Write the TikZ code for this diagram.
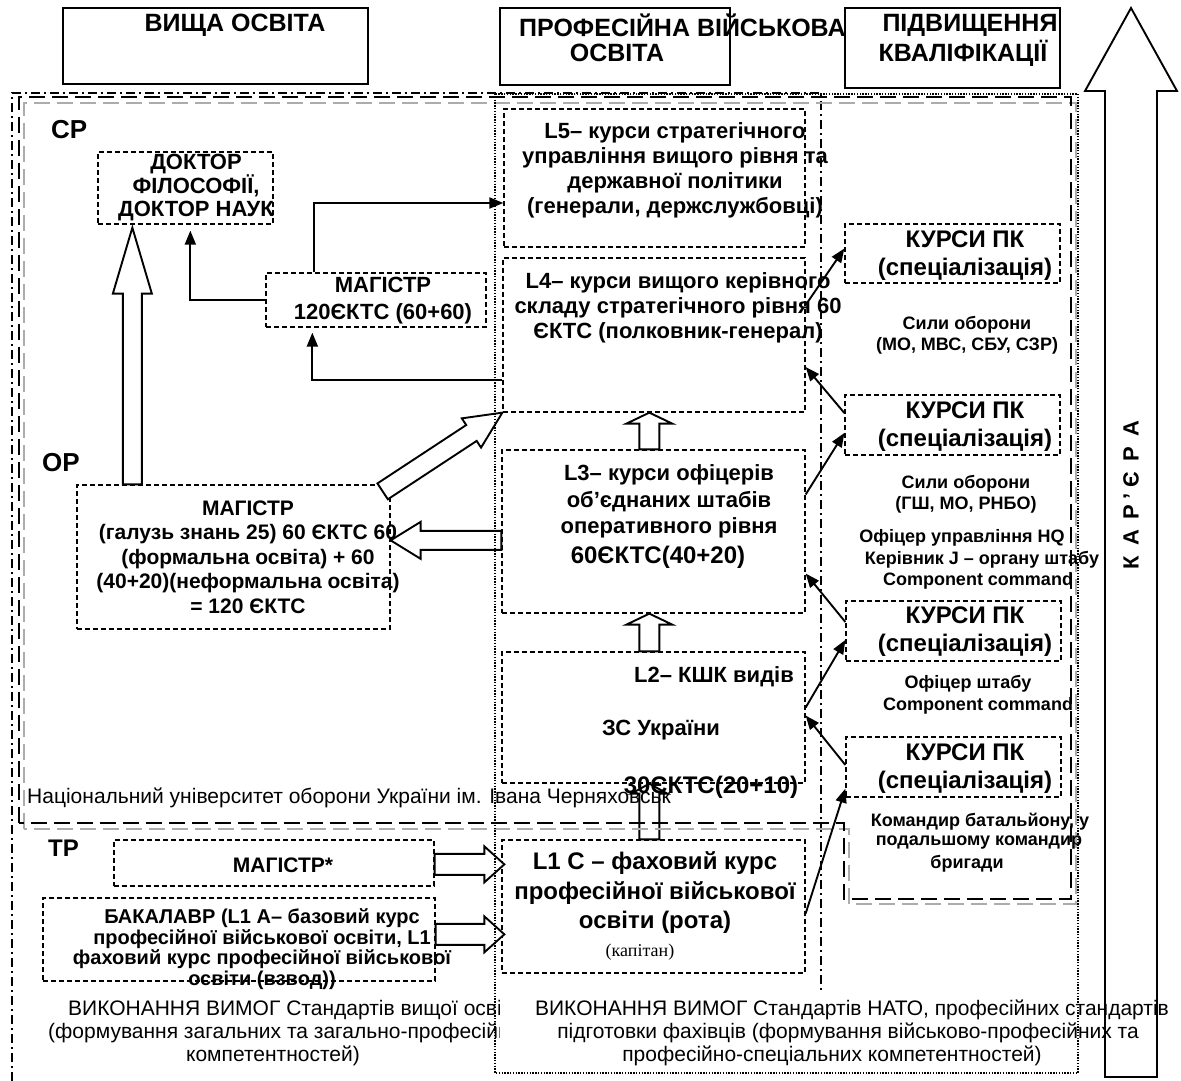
\documentclass[tikz,border=0pt]{standalone}
\usepackage{fontspec}
\setmainfont{Liberation Sans}
\newfontfamily\serifx{Liberation Serif}
\usetikzlibrary{arrows.meta,calc,fit}

\newcommand\hollowarr[5]{%
  \coordinate (has) at (#1);
  \coordinate (hae) at (#2);
  \coordinate (hab) at ($(hae)!#5!(has)$);
  \draw[hollow] ($(has)!#3!90:(hab)$) -- ($(hab)!#3!-90:(has)$) -- ($(hab)!#4!-90:(has)$) -- (hae)
     -- ($(hab)!#4!90:(has)$) -- ($(hab)!#3!90:(has)$) -- ($(has)!#3!-90:(hab)$) -- cycle;}

\tikzset{
  hbox/.style={draw, line width=1.8pt, inner sep=0pt},
  fbox/.style={draw, line width=1.3pt, dash pattern=on 5pt off 3pt, inner sep=0pt},
  dashdotfr/.style={line width=1.6pt, dash pattern=on 9pt off 4pt on 2pt off 4pt},
  bdash/.style={line width=2.2pt, dash pattern=on 16pt off 7pt},
  gdash/.style={bdash, draw=gray!65},
  dotfr/.style={line width=1.6pt, dash pattern=on 1.4pt off 1.4pt},
  conn/.style={line width=1.9pt, -{Triangle[length=14pt,width=11pt]}},
  hollow/.style={draw, line width=1.9pt, fill=white, line join=miter},
  ht/.style={font=\bfseries\fontsize{25}{28}\selectfont, inner sep=0pt},
  lab/.style={font=\bfseries\fontsize{26}{28}\selectfont, inner sep=0pt, anchor=west},
  bt/.style={font=\bfseries\fontsize{21}{24}\selectfont, align=center, inner sep=0pt},
  lt/.style={font=\bfseries\fontsize{22}{25}\selectfont, align=center, inner sep=0pt},
  kt/.style={font=\bfseries\fontsize{24}{28}\selectfont, align=center, inner sep=0pt},
  st/.style={font=\bfseries\fontsize{18}{21}\selectfont, align=center, inner sep=0pt},
  rt/.style={font=\fontsize{21}{23}\selectfont, align=center, inner sep=0pt},
}

\begin{document}
\begin{tikzpicture}[x=1pt,y=-1pt]
\useasboundingbox (0,0) rectangle (1181,1081);

% boxes
\node[hbox, fit={(63,8) (368,84)}] (hv) {};
\node[hbox, fit={(500,8) (730,85)}] (hp) {};
\node[hbox, fit={(845,8) (1060,88)}] (hq) {};

\node[fbox, fit={(98,152) (273,224)}] (doc) {};
\node[fbox, fit={(266,273) (486,327)}] (mag1) {};
\node[fbox, fit={(77,485) (390,629)}] (mag2) {};
\node[fbox, fit={(114,840) (434,886)}] (magS) {};
\node[fbox, fit={(43,898) (435,981)}] (bak) {};
\node[fbox, fit={(504,109) (805,247)}] (L5) {};
\node[fbox, fit={(503,258) (805,412)}] (L4) {};
\node[fbox, fit={(502,450) (805,613)}] (L3) {};
\node[fbox, fit={(502,652) (805,783)}] (L2) {};
\node[fbox, fit={(502,840) (805,973)}] (L1) {};
\node[fbox, fit={(845,224) (1060,283)}] (k1) {};
\node[fbox, fit={(845,395) (1060,455)}] (k2) {};
\node[fbox, fit={(846,601) (1061,661)}] (k3) {};
\node[fbox, fit={(846,737) (1061,797)}] (k4) {};

% hollow arrows
\hollowarr{$(mag2.north west)+(56,0)$}{$(doc.south west)+(35,3)$}{9.5pt}{19.5pt}{66pt}
\hollowarr{$(mag2.north east)+(-8,7)$}{L4.south west}{9.5pt}{17.5pt}{37pt}
\hollowarr{$(L3.north west)+(0,91)$}{$(mag2.north east)+(0,56)$}{9.5pt}{18.5pt}{30pt}
\hollowarr{$(L3.north west)+(148,0)$}{$(L4.south west)+(147,0)$}{10pt}{23pt}{11pt}
\hollowarr{$(L2.north west)+(148,0)$}{$(L3.south west)+(148,0)$}{10pt}{23pt}{11pt}
\hollowarr{$(L1.north west)+(148,0)$}{$(L2.south west)+(148,0)$}{10pt}{18pt}{10pt}
\hollowarr{$(magS.north east)+(0,25)$}{$(L1.north west)+(3,25)$}{10.5pt}{18pt}{20pt}
\hollowarr{$(bak.north east)+(0,37)$}{$(L1.north west)+(3,95)$}{10.5pt}{18pt}{20pt}

% frames
\draw[dashdotfr] (12,1081) -- (12,93) -- (821,93) -- (821,993);
\draw[gdash] (24,829) -- (24,103) -- (1076,103) -- (1076,904) -- (849,904) -- (849,829) -- cycle;
\draw[bdash] (19,823) -- (19,97) -- (1071,97) -- (1071,899) -- (844,899) -- (844,823) -- cycle;
\draw[dotfr] (495,94) rectangle (1078,1073);

% career arrow
\draw[line width=1.9pt, line join=miter] (1105,1077) -- (1105,91) -- (1085,91) -- (1131,8) -- (1177,91) -- (1157,91) -- (1157,1077) -- cycle;
\node[font=\bfseries\fontsize{22}{24}\selectfont, rotate=90, inner sep=0pt] (kar) at (1131,495) {К\hspace{10pt}А\hspace{10pt}Р\hspace{6pt}’\hspace{6pt}Є\hspace{10pt}Р\hspace{10pt}А};

% header texts
\node[ht] (t1) at (235,25) {ВИЩА ОСВІТА};
\node[ht, anchor=west] (t2) at (519,25) {ПРОФЕСІЙНА ВІЙСЬКОВА};
\node[ht] (t3) at (617,53) {ОСВІТА};
\node[ht] (t4) at (970,25) {ПІДВИЩЕННЯ};
\node[ht] (t5) at (963,53) {КВАЛІФІКАЦІЇ};

% level labels
\node[lab] (cp) at (51,130) {СР};
\node[lab] (op) at (42,463) {ОР};
\node[lab, font=\bfseries\fontsize{24}{26}\selectfont] (tp) at (48,848) {ТР};

% left column texts
\node[bt, font=\bfseries\fontsize{22}{23.5}\selectfont] (doct) at (196,188) {ДОКТОР\\ФІЛОСОФІЇ,\\ДОКТОР НАУК};
\node[bt, font=\bfseries\fontsize{22}{27}\selectfont] (mag1t) at (383,301) {МАГІСТР\\120ЄКТС (60+60)};
\node[bt, font=\bfseries\fontsize{21}{24.5}\selectfont] (mag2t) at (248,557) {МАГІСТР\\(галузь знань 25) 60 ЄКТС 60\\(формальна освіта) + 60\\(40+20)(неформальна освіта)\\= 120 ЄКТС};
\node[bt, font=\bfseries\fontsize{21}{24}\selectfont] (magSt) at (283,865) {МАГІСТР*};
\node[bt, font=\bfseries\fontsize{20}{20.5}\selectfont] (bakt) at (262,949) {БАКАЛАВР (L1 А– базовий курс\\професійної військової освіти, L1\\фаховий  курс професійної військової\\освіти (взвод))};

% middle column texts
\node[lt] (L5t) at (675,170) {L5– курси стратегічного\\управління вищого рівня та\\державної політики\\(генерали, держслужбовці)};
\node[lt] (L4t) at (678,307.5) {L4– курси вищого керівного\\складу стратегічного рівня 60\\ЄКТС (полковник-генерал)};
\node[lt, font=\bfseries\fontsize{22}{26.5}\selectfont] (L3t) at (669,501.5) {L3– курси офіцерів\\об’єднаних штабів\\оперативного рівня};
\node[lt, font=\bfseries\fontsize{24}{26}\selectfont] (L3e) at (658,557) {60ЄКТС(40+20)};
\node[lt] (L2t) at (714,677) {L2– КШК видів};
\node[lt] (L2u) at (661,730) {ЗС України};
\node[lt, font=\bfseries\fontsize{24}{26}\selectfont] (L2e) at (711,787) {30ЄКТС(20+10)};
\node[lt, font=\bfseries\fontsize{24}{29.5}\selectfont] (L1t) at (655,893) {L1 C – фаховий курс\\професійної військової\\освіти (рота)};
\node[inner sep=0pt, font=\serifx\fontsize{18}{20}\selectfont] (kap) at (640,952) {(капітан)};

% right column texts
\node[kt] (k1t) at (965,256) {КУРСИ ПК\\(спеціалізація)};
\node[kt] (k2t) at (965,426.5) {КУРСИ ПК\\(спеціалізація)};
\node[kt] (k3t) at (965,632) {КУРСИ ПК\\(спеціалізація)};
\node[kt] (k4t) at (965,768.5) {КУРСИ ПК\\(спеціалізація)};
\node[st] (s1) at (967,335) {Сили оборони\\(МО, МВС, СБУ, СЗР)};
\node[st] (s2) at (966,494) {Сили оборони\\(ГШ, МО, РНБО)};
\node[st] (s3) at (962,538) {Офіцер  управління HQ};
\node[st] (s4) at (982,560) {Керівник J – органу штабу};
\node[st] (s5) at (978,581) {Component command};
\node[st] (s6) at (968,684) {Офіцер  штабу};
\node[st] (s7) at (978,706) {Component command};
\node[st] (s8) at (980,822) {Командир батальйону, у};
\node[st] (s9) at (979,843) {подальшому командир};
\node[st] (s10) at (967,864) {бригади};

% university name
\node[rt, anchor=west] (nuo) at (27,798) {Національний університет оборони України ім. Івана Черняховськ};

% bottom texts
\begin{scope}
\clip (0,990) rectangle (499,1081);
\node[rt, anchor=west] (b1) at (68,1010) {ВИКОНАННЯ ВИМОГ Стандартів вищої освіти};
\node[rt, anchor=west] (b2) at (48,1033) {(формування загальних та загально-професійних};
\node[rt] (b3) at (273,1056) {компетентностей)};
\end{scope}
\node[rt] (c1) at (852,1010) {ВИКОНАННЯ ВИМОГ Стандартів НАТО, професійних стандартів};
\node[rt] (c2) at (848,1033) {підготовки фахівців (формування військово-професійних та};
\node[rt] (c3) at (832,1056) {професійно-спеціальних компетентностей)};

% connectors
\draw[conn] ($(mag1.north west)+(49,0)$) |- ($(L5.west)+(0,25)$);
\draw[conn] (mag1.west) -| ($(doc.south west)+(93,6)$);
\draw[conn] ($(L4.west)+(0,45)$) -| ($(mag1.south west)+(47,5)$);
\draw[conn] ($(L4.east)+(0,-30)$) -- ($(k1.west)+(0,-5)$);
\draw[conn] ($(k2.west)+(0,-12)$) -- ($(L4.east)+(0,32)$);
\draw[conn] ($(L3.east)+(0,-37)$) -- ($(k2.west)+(0,8)$);
\draw[conn] ($(k3.west)+(0,-9)$) -- ($(L3.east)+(0,42)$);
\draw[conn] ($(L2.east)+(0,-10)$) -- ($(k3.west)+(0,9)$);
\draw[conn] ($(k4.west)+(0,-2)$) -- ($(L2.east)+(0,-2)$);
\draw[conn] ($(L1.east)+(0,7)$) -- ($(k4.south west)+(0,-9)$);
\end{tikzpicture}
\end{document}
